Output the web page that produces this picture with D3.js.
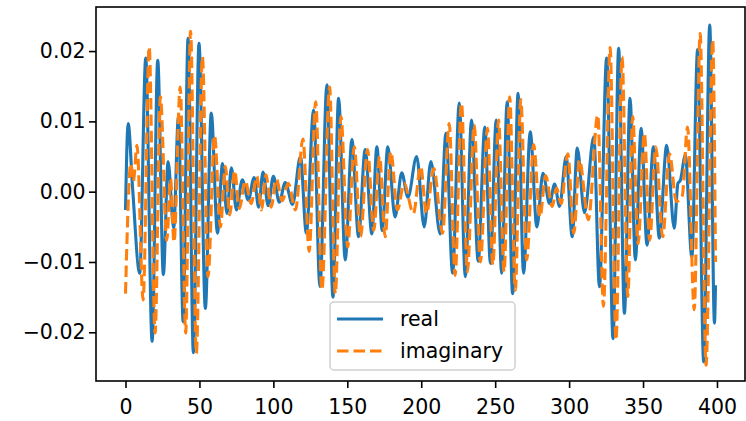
<!DOCTYPE html>
<html>
<head>
<meta charset="utf-8">
<script src="https://cdn.jsdelivr.net/npm/d3@7"></script>
<style>
  body { margin: 0; background: #fff; }
  svg { display: block; font-family: "DejaVu Sans", sans-serif; }
</style>
</head>
<body>
<div id="chart"></div>
<script>
// turning points: sample index / value
var realX = [0, 1.8, 4.8, 9.6, 13.7, 18.0, 21.8, 25.6, 28.8, 32.6, 35.8, 39.0, 42.3, 45.9, 49.7, 54.0, 58.0, 62.2,
  65.6, 68.6, 71.6, 75.0, 79.0, 83.0, 87.0, 90.0, 93.0, 96.5, 100.0, 104.0, 108.0, 113.0, 118.3, 122.3, 127.2, 131.5,
  136.2, 140.3, 144.1, 148.6, 153.1, 157.6, 162.1, 166.6, 170.0, 173.6, 177.4, 182.3, 186.8, 191.0, 196.9, 202.0,
  206.5, 212.8, 216.7, 221.2, 225.7, 229.8, 234.0, 238.5, 243.0, 246.8, 250.7, 254.4, 258.1, 261.8, 265.5, 269.2,
  273.7, 278.2, 282.3, 286.8, 290.2, 293.5, 298.0, 302.1, 305.5, 310.4, 316.7, 320.5, 325.4, 329.7, 333.5, 337.4,
  341.2, 344.8, 348.7, 352.7, 357.0, 361.0, 366.0, 371.1, 373.6, 375.2, 378.6, 383.0, 386.9, 391.0, 395.1, 398.3, 399];
var realY = [-0.0026, 0.0097, 0.0005, -0.0116, 0.0190, -0.0213, 0.0187, -0.0118, 0.0043, -0.0052, 0.0107, -0.0185,
  0.0218, -0.0229, 0.0211, -0.0166, 0.0112, -0.0059, 0.0040, -0.0031, 0.0034, -0.0026, 0.0017, -0.0012, 0.0020,
  -0.0022, 0.0028, -0.0020, 0.0022, -0.0015, 0.0013, -0.0018, 0.0050, -0.0059, 0.0116, -0.0135, 0.0152, -0.0150,
  0.0133, -0.0097, 0.0074, -0.0064, 0.0060, -0.0060, 0.0064, -0.0055, 0.0064, -0.0036, 0.0027, -0.0008, 0.0050,
  -0.0050, 0.0043, -0.0060, 0.0083, -0.0116, 0.0126, -0.0121, 0.0102, -0.0099, 0.0092, -0.0102, 0.0102, -0.0116,
  0.0128, -0.0145, 0.0140, -0.0116, 0.0085, -0.0050, 0.0026, -0.0017, 0.0011, -0.0021, 0.0050, -0.0064, 0.0062,
  -0.0030, 0.0078, -0.0135, 0.0190, -0.0209, 0.0204, -0.0173, 0.0133, -0.0097, 0.0090, -0.0076, 0.0064, -0.0066,
  0.0066, -0.0052, 0.0012, 0.0016, 0.0052, -0.0093, 0.0202, -0.0242, 0.0237, -0.0187, -0.0133];

var imagX = [0, 3.6, 5.3, 7.8, 11.9, 16.0, 20.0, 23.6, 27.9, 30.5, 32.8, 37.0, 40.7, 44.0, 47.9, 52.0, 55.8, 60.2,
  64.2, 67.5, 70.5, 73.8, 77.0, 81.0, 85.0, 88.8, 92.0, 95.0, 98.5, 102.0, 106.0, 110.0, 115.0, 120.0, 124.2, 128.6,
  132.8, 138.0, 141.9, 145.7, 150.2, 154.7, 158.9, 163.7, 167.9, 171.8, 175.6, 179.4, 183.9, 188.4, 194.7, 199.6,
  203.5, 208.5, 214.4, 218.9, 222.9, 227.2, 231.2, 235.8, 240.0, 244.8, 248.4, 252.3, 256.0, 259.8, 263.6, 267.3,
  271.3, 276.0, 280.3, 284.1, 288.6, 291.5, 294.6, 299.1, 303.2, 307.0, 313.0, 319.4, 323.2, 327.7, 331.7, 335.8,
  339.7, 343.0, 346.6, 350.9, 354.5, 358.6, 363.3, 367.9, 372.5, 376.5, 380.1, 384.6, 388.6, 392.6, 397.1, 399];
var imagY = [-0.0145, 0.0040, 0.0015, 0.0066, -0.0154, 0.0206, -0.0201, 0.0135, -0.0069, 0.0018, -0.0072, 0.0149,
  -0.0201, 0.0228, -0.0230, 0.0192, -0.0121, 0.0080, -0.0050, 0.0036, -0.0033, 0.0030, -0.0024, 0.0015, -0.0017,
  0.0022, -0.0026, 0.0024, -0.0022, 0.0018, -0.0013, 0.0012, -0.0026, 0.0075, -0.0085, 0.0128, -0.0140, 0.0149,
  -0.0145, 0.0107, -0.0079, 0.0064, -0.0064, 0.0060, -0.0055, 0.0050, -0.0064, 0.0057, -0.0026, 0.0012, -0.0031,
  0.0036, -0.0031, 0.0033, -0.0059, 0.0097, -0.0119, 0.0126, -0.0114, 0.0095, -0.0100, 0.0090, -0.0104, 0.0102,
  -0.0114, 0.0135, -0.0140, 0.0131, -0.0097, 0.0067, -0.0036, 0.0023, -0.0021, 0.0005, -0.0017, 0.0054, -0.0059,
  0.0045, -0.0040, 0.0109, -0.0163, 0.0205, -0.0211, 0.0192, -0.0149, 0.0107, -0.0074, 0.0083, -0.0069, 0.0064,
  -0.0064, 0.0054, -0.0014, -0.0006, 0.0092, -0.0168, 0.0225, -0.0247, 0.0216, -0.0100];

var xTicks = [0, 50, 100, 150, 200, 250, 300, 350, 400];
var yTicks = [-0.02, -0.01, 0.00, 0.01, 0.02];
var seriesNames = ["real", "imaginary"];
var seriesColors = ["#1f77b4", "#ff7f0e"];

var w = 746, h = 421;
var padL = 96, padR = 745, padT = 7, padB = 381;
var fontPx = "20.5px";

var svg = d3.select("#chart").append("svg")
  .attr("width", w)
  .attr("height", h);

var x = d3.scaleLinear().domain([-19.95, 418.95]).range([padL, padR]);
var y = d3.scaleLinear().domain([-0.02693, 0.02627]).range([padB, padT]);

var line = d3.line()
  .x(function(d) { return x(d[0]); })
  .y(function(d) { return y(d[1]); })
  .curve(d3.curveMonotoneX);

var real = d3.zip(realX, realY);
var imag = d3.zip(imagX, imagY);

svg.append("path")
  .datum(real)
  .attr("d", line)
  .attr("fill", "none")
  .attr("stroke", seriesColors[0])
  .attr("stroke-width", 3.1)
  .attr("stroke-linejoin", "round");

svg.append("path")
  .datum(imag)
  .attr("d", line)
  .attr("fill", "none")
  .attr("stroke", seriesColors[1])
  .attr("stroke-width", 3.1)
  .attr("stroke-dasharray", "11.5,5");

// axes
var xAxis = svg.append("g")
  .attr("transform", "translate(0," + padB + ")")
  .call(d3.axisBottom(x).tickValues(xTicks).tickSize(7).tickPadding(11).tickFormat(d3.format("d")));
var yAxis = svg.append("g")
  .attr("transform", "translate(" + padL + ",0)")
  .call(d3.axisLeft(y).tickValues(yTicks).tickSize(7).tickPadding(3.5)
    .tickFormat(function(d) { return d3.format(".2f")(d).replace("-", "\u2212"); }));

[xAxis, yAxis].forEach(function(a) {
  a.select(".domain").remove();
  a.selectAll("line").attr("stroke", "#000").attr("stroke-width", 1.6);
  a.selectAll("text").attr("fill", "#000").style("font-size", fontPx).style("font-family", "DejaVu Sans");
});

svg.append("rect")
  .attr("x", padL).attr("y", padT)
  .attr("width", padR - padL).attr("height", padB - padT)
  .attr("fill", "none").attr("stroke", "#000").attr("stroke-width", 1.6);

// legend
var lg = svg.append("g").attr("transform", "translate(330,302)");
lg.append("rect")
  .attr("width", 185).attr("height", 68)
  .attr("rx", 4)
  .attr("fill", "#fff").attr("fill-opacity", 0.8)
  .attr("stroke", "#d0d0d0").attr("stroke-width", 1.5);

seriesNames.forEach(function(name, i) {
  var yy = 17 + i * 32;
  var l = lg.append("line")
    .attr("x1", 7).attr("x2", 53)
    .attr("y1", yy).attr("y2", yy)
    .attr("stroke", seriesColors[i]).attr("stroke-width", 3.1);
  if (i == 1) l.attr("stroke-dasharray", "11.5,5");
  lg.append("text")
    .attr("x", 70).attr("y", yy)
    .attr("dy", "0.35em")
    .style("font-size", fontPx)
    .text(name);
});
</script>
</body>
</html>
